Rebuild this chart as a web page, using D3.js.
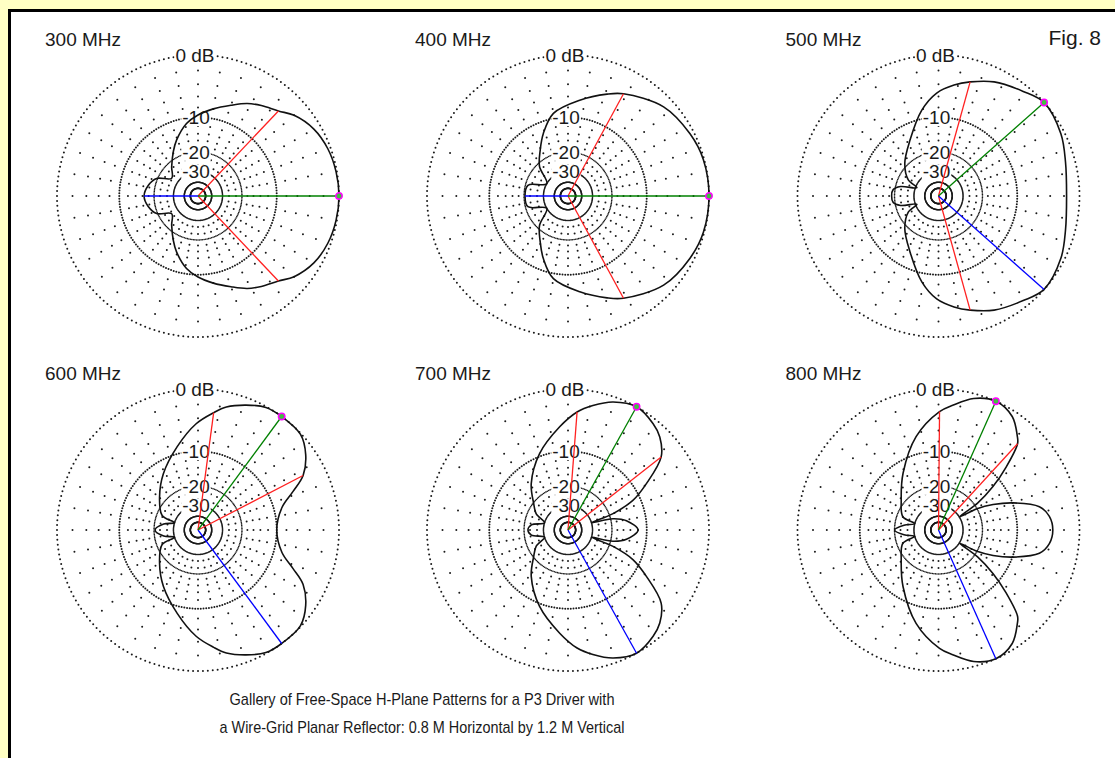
<!DOCTYPE html>
<html>
<head>
<meta charset="utf-8">
<script src="https://cdn.jsdelivr.net/npm/d3@7"></script>
<style>
  body { margin: 0; background: #ffffc4; }
  svg { display: block; }
  text { font-family: "Liberation Sans", Arial, sans-serif; fill: #1a1a1a; }
</style>
</head>
<body>
<svg id="chart" width="1115" height="758"></svg>
<script>
// frequencies of the six panels
const freqLabels = ["300 MHz", "400 MHz", "500 MHz", "600 MHz", "700 MHz", "800 MHz"]

// H-plane patterns, upper half (azimuth 0..180 deg), dB rel. max; the plots are symmetric
const az300 = [0, 10, 20, 30, 40, 46.6, 55, 62, 70, 80, 90, 99, 111, 119, 132, 146, 157, 168, 180]
const db300 = [0, -0.1, -0.35, -0.9, -2.0, -3.2, -4.2, -5.1, -6.5, -8.0, -9.5, -11.2, -14.7, -17.5, -21.9, -25.6, -19.6, -17.5, -16.5]

const az400 = [0, 15, 27, 43, 61.5, 69, 83, 100, 111.5, 121, 134, 150, 165, 180]
const db400 = [0, -0.1, -0.5, -1.3, -3.3, -4.4, -6.5, -8.9, -12.7, -16.5, -21.2, -30, -21, -20.4]

const az500 = [0, 15, 27, 41.5, 51, 64, 74.5, 82, 91, 101, 117, 136, 152, 159, 166, 172, 180]
const db500 = [-1.65, -1.2, -0.45, 0, -0.8, -1.8, -3.0, -3.95, -5.4, -8.2, -13.9, -18.9, -24.3, -31, -22, -19.3, -18.9]

const az600 = [0, 15, 22, 27.4, 35, 43, 53.6, 61, 69, 77, 82.4, 91, 104, 121.6, 139.5, 158, 163, 170, 180]
const db600 = [-10, -8.3, -5.5, -3.0, -1.2, -0.1, 0, -0.1, -0.9, -1.9, -3.0, -4.85, -8.5, -13, -17.6, -22.2, -30, -24, -20.4]

const az700 = [0, 9, 14, 17, 20, 24.5, 30.6, 38.1, 45.4, 51.3, 60.9, 70.6, 78.7, 85.6, 94.6, 110.4, 128.4, 142.5, 153, 163, 172, 180]
const db700 = [-12, -14.9, -19.1, -30, -18.5, -11.7, -7.5, -3.0, -1.3, -0.6, 0, -0.65, -1.8, -3.0, -5.3, -9.4, -14.9, -20.3, -23.6, -30, -23, -21.6]

const az800 = [0, 7, 13, 20, 25, 29, 32, 34.5, 38.6, 43, 47.5, 50, 57, 66, 75, 83.5, 89.5, 103.5, 122, 141, 159.6, 165, 172, 180]
const db800 = [-3.6, -4.0, -5.3, -9.9, -14.6, -20, -30, -18.7, -12.1, -7.2, -3.2, -2.4, -0.7, 0, -0.6, -2.0, -3.0, -6.6, -12.8, -18.5, -22.5, -30, -24, -20]

const patternAz = [az300, az400, az500, az600, az700, az800]
const patternDb = [db300, db400, db500, db600, db700, db800]

// green = max gain direction, red = -3 dB points, blue = second line
const maxAz = [0, 0, 41.5, 53.6, 60.9, 66]
const redAz = [[46.6, -46.6], [61.5, -61.5], [74.5, -74.5], [82.4, 27.4], [85.6, 38.1], [89.5, 47.5]]
const redDb = [[-3.2, -3.2], [-3.3, -3.3], [-3.0, -3.0], [-3.0, -3.0], [-3.0, -3.0], [-3.0, -3.2]]
const blueAz = [180, 180, -41.5, -53.6, -60.9, -66]
const blueDb = [-16.5, -20.4, 0, 0, 0, 0]

// grid
const ringLevels = [0, -10, -20, -30, -40, -50]
const ringLabels = ["0 dB", "-10", "-20", "-30"]
const radialLevels = [-2, -4, -6, -8, -12, -14, -16, -18, -22.5, -26]

const captionLines = [
    "Gallery of Free-Space H-Plane Patterns for a P3 Driver with",
    "a Wire-Grid Planar Reflector: 0.8 M Horizontal by 1.2 M Vertical"
]

const colX = [198, 568, 938.5]
const rowY = [196, 530]
const R = 141

const svg = d3.select("#chart")

// frame
svg.append("rect").attr("width", 1115).attr("height", 758).attr("fill", "#ffffc4")
svg.append("rect").attr("x", 8).attr("y", 9).attr("width", 1107).attr("height", 749).attr("fill", "#000")
svg.append("rect").attr("x", 11).attr("y", 12).attr("width", 1104).attr("height", 746).attr("fill", "#fff")

// ARRL log scale: radius shrinks by 0.89 every 2 dB
const amp = d3.scaleLinear().domain([0, 1]).range([0, R])
const rOf = db => amp(Math.pow(0.89, -db / 2))
// azimuth 0 at right, counter-clockwise -> d3 radial angle
const azScale = d3.scaleLinear().domain([0, 360]).range([Math.PI / 2, Math.PI / 2 - 2 * Math.PI])
const pt = (az, db) => d3.pointRadial(azScale(az), rOf(db))

const patternLine = d3.lineRadial()
    .angle(d => azScale(d[0]))
    .radius(d => rOf(d[1]))
    .curve(d3.curveCatmullRomClosed.alpha(0.5))

freqLabels.forEach((label, i) => {
    const cx = colX[i % 3], cy = rowY[Math.floor(i / 3)]
    const g = svg.append("g").attr("transform", `translate(${cx},${cy})`)

    // dotted rings, a dot every 2 degrees
    ringLevels.forEach(lv => {
        g.append("g").selectAll("circle")
            .data(d3.range(0, 360, 2))
            .join("circle")
            .attr("cx", a => pt(a, lv)[0])
            .attr("cy", a => pt(a, lv)[1])
            .attr("r", lv <= -20 ? 0.8 : 1)
            .attr("fill", "#1a1a1a")
    })

    // dotted radials every 10 degrees
    const radDots = []
    d3.range(0, 360, 10).forEach(a => radialLevels.forEach(lv => radDots.push([a, lv])))
    g.append("g").selectAll("circle")
        .data(radDots)
        .join("circle")
        .attr("cx", d => pt(d[0], d[1])[0])
        .attr("cy", d => pt(d[0], d[1])[1])
        .attr("r", 1)
        .attr("fill", "#1a1a1a")

    // ring labels with opaque background
    ringLabels.forEach((t, k) => {
        const lab = g.append("text")
            .attr("x", k === 0 ? -3 : -2)
            .attr("y", -rOf(ringLevels[k]))
            .attr("dy", "0.36em")
            .attr("text-anchor", "middle")
            .attr("font-size", 19)
            .text(t)
        const bb = lab.node().getBBox()
        g.insert("rect", "text")
            .attr("x", bb.x - 1).attr("y", bb.y + 3)
            .attr("width", bb.width + 2).attr("height", bb.height - 5)
            .attr("fill", "#fff")
    })

    // pattern: mirror the upper half
    const az = patternAz[i], db = patternDb[i]
    const pts = az.map((a, k) => [a, db[k]])
    for (let k = az.length - 2; k > 0; k--) pts.push([360 - az[k], db[k]])
    g.append("path")
        .attr("d", patternLine(pts))
        .attr("fill", "none")
        .attr("stroke", "#111")
        .attr("stroke-width", 1.6)

    const ray = (a, d, color) => {
        const p = pt(a, d)
        g.append("line")
            .attr("x1", 0).attr("y1", 0)
            .attr("x2", p[0]).attr("y2", p[1])
            .attr("stroke", color)
            .attr("stroke-width", 1.3)
    }
    redAz[i].forEach((a, k) => ray(a, redDb[i][k], "#ff2020"))
    ray(blueAz[i], blueDb[i], "#0000ff")
    ray(maxAz[i], 0, "#008000")

    const m = pt(maxAz[i], 0)
    g.append("circle")
        .attr("cx", m[0]).attr("cy", m[1]).attr("r", 3.2)
        .attr("fill", "#40c040")
        .attr("stroke", "#ff00ff")
        .attr("stroke-width", 1.5)

    svg.append("text")
        .attr("x", cx - 153)
        .attr("y", cy - 150)
        .attr("font-size", 19)
        .text(label)
})

svg.append("text")
    .attr("x", 1101).attr("y", 45)
    .attr("text-anchor", "end")
    .attr("font-size", 21)
    .text("Fig. 8")

const capWidths = [385, 405]
captionLines.forEach((t, k) => {
    svg.append("text")
        .attr("x", 422)
        .attr("y", 705 + k * 28)
        .attr("text-anchor", "middle")
        .attr("font-size", 17)
        .attr("textLength", capWidths[k])
        .attr("lengthAdjust", "spacingAndGlyphs")
        .text(t)
})
</script>
</body>
</html>
